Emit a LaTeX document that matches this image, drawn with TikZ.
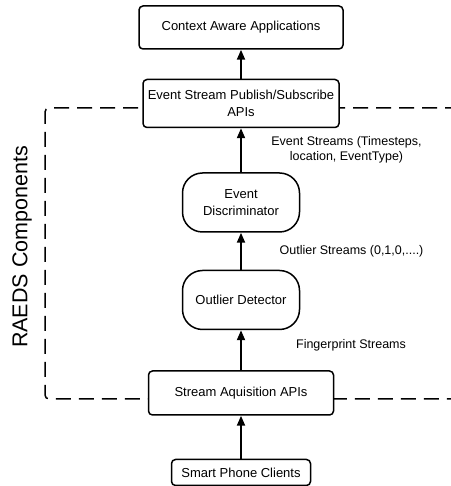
\documentclass[tikz,border=0pt]{standalone}
\usepackage{fontspec}
\setmainfont{Liberation Sans}
\usetikzlibrary{positioning,arrows.meta,backgrounds}

\tikzset{
	block/.style={draw, line width=1.5pt, rounded corners=4pt, fill=white,
		align=center, inner sep=0pt, font=\fontsize{13}{17}\selectfont},
	pill/.style={block, rounded corners=20pt},
	flow/.style={line width=2pt, -{Triangle[length=10pt,width=8pt]}},
	streamlabel/.style={align=center, font=\fontsize{12.5}{15}\selectfont},
	raedsframe/.style={line width=1.5pt, dash pattern=on 15pt off 8pt, rounded corners=4pt},
}

\begin{document}
\begin{tikzpicture}[x=1pt,y=1pt]
	\clip (0,0) rectangle (450,486);
	
	\node[block, minimum width=139pt, minimum height=26pt] (phone) at (241,13.5) {Smart Phone Clients};
	\node[block, minimum width=185pt, minimum height=44pt, above=43pt of phone] (acq) {Stream Aquisition APIs};
	\node[pill, minimum width=117pt, minimum height=59pt, above=40pt of acq] (outlier) {Outlier Detector};
	\node[pill, minimum width=117pt, minimum height=59pt, above=37pt of outlier] (disc) {Event\\Discriminator};
	\node[block, minimum width=196pt, minimum height=48pt, above=44pt of disc] (pubsub) {Event Stream Publish/Subscribe\\APIs};
	\node[block, minimum width=204pt, minimum height=43pt, above=29pt of pubsub] (apps) {Context Aware Applications};
	
	% dashed frame round the RAEDS part
	\begin{scope}[on background layer]
		\draw[raedsframe] (460,378) -- (45,378) -- (45,87) -- (460,87);
	\end{scope}
	\node[rotate=90, font=\fontsize{21.5}{24}\selectfont] (raeds) at (22,239) {RAEDS Components};
	
	\draw[flow] (phone) -- (acq);
	\draw[flow] (acq) -- (outlier) node[streamlabel, midway, xshift=110pt, yshift=4.5pt] {Fingerprint Streams};
	\draw[flow] (outlier) -- (disc) node[streamlabel, midway, xshift=110.5pt] {Outlier Streams (0,1,0,....)};
	\draw[flow] (disc) -- (pubsub) node[streamlabel, midway, xshift=105.5pt] {Event Streams (Timesteps,\\location, EventType)};
	\draw[flow] (pubsub) -- (apps);
\end{tikzpicture}
\end{document}
